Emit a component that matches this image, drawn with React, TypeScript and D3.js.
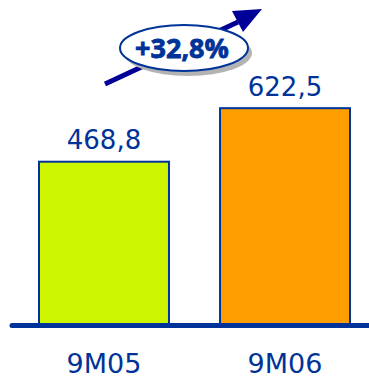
import React from "react";
import * as d3 from "d3";

const categories = ["9M05", "9M06"];
const values = [468.8, 622.5];
const valueLabels = ["468,8", "622,5"];
const barColors = ["#CCF600", "#FF9E00"];
const growthLabel = "+32,8%";

const W = 369;
const H = 380;
const BLUE = "#003399";
const FONT = "'DejaVu Sans', 'Open Sans', sans-serif";

export default function App() {
  const baseY = 325;
  const x = d3
    .scaleBand<string>()
    .domain(categories)
    .range([39, 350])
    .paddingInner(0.282)
    .paddingOuter(0);
  const y = d3.scaleLinear().domain([0, 700]).range([baseY, baseY - 700 * 0.3483]);

  // growth arrow geometry
  const tip: [number, number] = [262, 9];
  const headA: [number, number] = [232, 11];
  const headB: [number, number] = [243, 32];
  const shaftStart: [number, number] = [105, 84];
  const shaftEnd: [number, number] = [238, 22];

  const ell = { cx: 184, cy: 48, rx: 64, ry: 23 };

  return (
    <svg
      width={W}
      height={H}
      style={{ position: "absolute", left: 0, top: 0, background: "#fff" }}
    >
      {categories.map((c, i) => (
        <g key={c}>
          <rect
            x={x(c)!}
            y={y(values[i])}
            width={x.bandwidth()}
            height={baseY - y(values[i])}
            fill={barColors[i]}
            stroke={BLUE}
            strokeWidth={2}
          />
          <text
            x={x(c)! + x.bandwidth() / 2}
            y={y(values[i]) - 12.5}
            textAnchor="middle"
            fontFamily={FONT}
            fontSize={26}
            fill={BLUE}
          >
            {valueLabels[i]}
          </text>
          <text
            x={x(c)! + x.bandwidth() / 2}
            y={373}
            textAnchor="middle"
            fontFamily={FONT}
            fontSize={27}
            fill={BLUE}
          >
            {c}
          </text>
        </g>
      ))}

      <line
        x1={12}
        x2={W}
        y1={baseY + 0.5}
        y2={baseY + 0.5}
        stroke={BLUE}
        strokeWidth={5}
        strokeLinecap="round"
      />

      <line
        x1={shaftStart[0]}
        y1={shaftStart[1]}
        x2={shaftEnd[0]}
        y2={shaftEnd[1]}
        stroke="#000099"
        strokeWidth={5}
      />
      <polygon
        points={[tip, headA, headB].map((p) => p.join(",")).join(" ")}
        fill="#000099"
      />

      <ellipse
        cx={ell.cx + 4}
        cy={ell.cy + 5}
        rx={ell.rx}
        ry={ell.ry}
        fill="#b3b3b3"
      />
      <ellipse
        cx={ell.cx}
        cy={ell.cy}
        rx={ell.rx}
        ry={ell.ry}
        fill="#fff"
        stroke={BLUE}
        strokeWidth={2}
      />
      <text
        x={182}
        y={58}
        textAnchor="middle"
        fontFamily="'Open Sans', 'DejaVu Sans', sans-serif"
        fontWeight="bold"
        fontSize={27}
        fill={BLUE}
        stroke={BLUE}
        strokeWidth={0.8}
      >
        {growthLabel}
      </text>
    </svg>
  );
}
